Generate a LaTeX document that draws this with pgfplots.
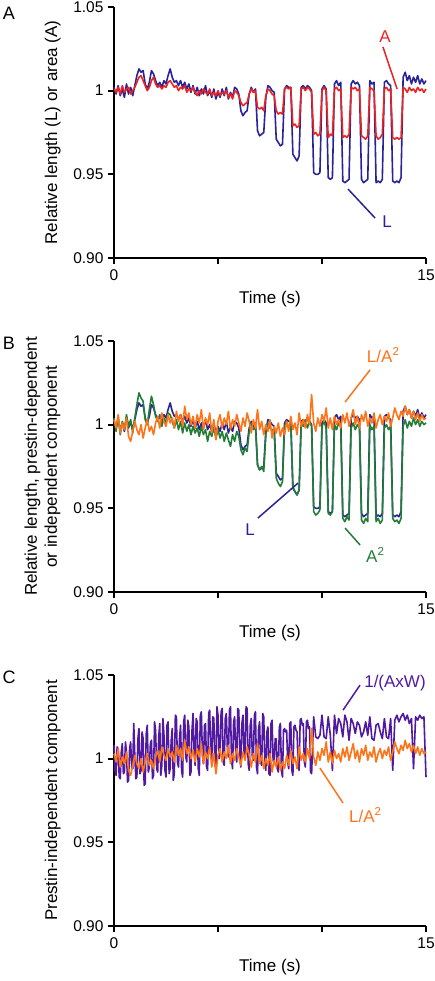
\documentclass[border=0pt]{standalone}
\usepackage{pgfplots}
\pgfplotsset{compat=1.18}
\usepackage{pgfplotstable}
\usepackage{fontspec}
\setmainfont{Liberation Sans}
\definecolor{cL}{RGB}{40,35,150}
\definecolor{cA}{RGB}{235,35,35}
\definecolor{cG}{RGB}{35,125,55}
\definecolor{cO}{RGB}{255,115,25}
\definecolor{cP}{RGB}{80,25,160}
\newcommand{\sq}{\raisebox{0.42em}{\fontsize{11.5}{12}\selectfont 2}}

\pgfplotstableread{
t L A A2 LA2
0.0 1.002 1.001 1.004 1.003
0.1 0.998 0.999 0.996 0.998
0.2 1.003 1.002 1.005 1.006
0.3 0.997 0.998 0.994 0.995
0.4 1.001 1.003 1.002 1.001
0.5 0.996 0.999 0.997 0.997
0.6 1.004 1.001 1.006 1.004
0.7 0.998 1.002 0.999 0.993
0.8 1.002 0.998 1.003 0.990
0.9 0.997 1.000 0.995 0.996
1.0 1.003 1.002 1.004 1.002
1.1 1.009 1.005 1.012 0.997
1.2 1.013 1.008 1.019 0.994
1.3 1.011 1.009 1.016 1.000
1.4 1.012 1.006 1.014 0.992
1.5 1.004 1.003 1.003 0.998
1.6 1.001 1.000 1.000 1.003
1.7 1.005 1.002 1.009 0.996
1.8 1.012 1.006 1.017 0.999
1.9 1.010 1.008 1.012 0.994
2.0 1.006 1.004 1.005 1.001
2.1 1.003 1.002 1.002 1.005
2.2 1.005 1.003 1.006 0.998
2.3 1.002 1.001 0.999 1.007
2.4 1.006 1.003 1.004 1.002
2.5 1.004 1.002 1.001 0.999
2.6 1.009 1.005 1.007 1.006
2.7 1.013 1.006 1.006 1.001
2.8 1.008 1.004 1.002 1.004
2.9 1.005 1.002 0.998 0.998
3.0 1.006 1.003 1.003 1.008
3.1 1.003 1.000 0.997 1.002
3.2 1.006 1.002 1.002 1.006
3.3 1.002 1.001 0.995 0.999
3.4 1.005 1.003 1.001 1.011
3.5 1.001 0.999 0.996 1.003
3.6 1.004 1.001 1.000 1.007
3.7 0.999 1.000 0.994 1.000
3.8 1.003 1.002 0.999 1.005
3.9 0.998 0.999 0.995 0.998
4.0 1.002 0.997 0.998 1.006
4.1 0.997 1.000 0.993 1.001
4.2 1.001 0.998 0.999 1.009
4.3 0.998 1.001 0.994 0.997
4.4 1.003 0.999 0.997 1.004
4.5 0.997 0.998 0.990 1.000
4.6 1.000 1.001 0.996 1.007
4.7 0.996 0.997 0.993 0.995
4.8 1.001 0.999 0.998 1.003
4.9 0.995 0.997 0.992 0.991
5.0 0.999 1.000 0.997 1.002
5.1 0.996 0.997 0.992 1.006
5.2 1.001 0.999 0.996 0.998
5.3 0.997 0.998 0.990 1.004
5.4 1.002 1.000 0.995 1.000
5.5 0.995 0.996 0.991 1.008
5.6 0.999 0.998 0.987 0.997
5.7 0.996 0.995 0.994 1.003
5.8 1.002 1.000 0.990 0.999
5.9 1.001 0.999 0.996 1.006
6.0 0.998 0.997 0.993 1.001
6.1 0.988 0.993 0.985 0.996
6.2 0.985 0.991 0.982 1.004
6.3 0.987 0.992 0.986 0.999
6.4 0.988 0.993 0.984 1.007
6.5 0.998 0.998 0.996 1.002
6.6 1.002 1.001 1.001 0.995
6.7 0.999 0.999 0.997 1.003
6.8 1.001 1.000 0.999 0.998
6.9 0.976 0.990 0.976 1.009
7.0 0.973 0.989 0.973 0.997
7.1 0.974 0.990 0.975 1.002
7.2 0.975 0.988 0.972 0.994
7.3 0.996 0.997 0.994 1.000
7.4 1.003 1.001 1.001 0.996
7.5 1.002 1.000 0.998 1.003
7.6 1.000 0.998 0.997 0.992
7.7 0.999 0.997 0.996 0.999
7.8 0.971 0.988 0.968 0.995
7.9 0.969 0.986 0.965 1.001
8.0 0.967 0.987 0.963 0.993
8.1 0.968 0.986 0.966 0.998
8.2 1.001 1.001 0.999 0.994
8.3 1.003 1.002 1.002 1.002
8.4 1.002 1.001 0.998 0.996
8.5 1.002 1.002 1.001 1.005
8.6 0.962 0.979 0.963 0.997
8.7 0.960 0.980 0.960 1.001
8.8 0.958 0.978 0.958 0.994
8.9 0.961 0.979 0.961 1.007
9.0 1.002 1.001 1.001 0.999
9.1 1.003 1.002 0.999 1.003
9.2 1.001 1.000 1.003 0.998
9.3 1.003 1.002 0.998 1.006
9.4 1.002 1.001 1.002 1.000
9.5 1.000 0.999 0.999 1.018
9.6 0.951 0.974 0.948 1.001
9.7 0.950 0.975 0.946 0.996
9.8 0.950 0.973 0.947 1.004
9.9 0.951 0.974 0.949 0.999
10.0 1.001 1.000 0.999 1.006
10.1 1.003 1.002 1.002 1.002
10.2 1.001 1.000 0.998 1.010
10.3 0.948 0.972 0.947 0.998
10.4 0.947 0.974 0.946 1.004
10.5 0.948 0.973 0.948 0.997
10.6 1.004 1.001 1.000 1.005
10.7 1.006 1.002 0.997 1.000
10.8 1.003 1.000 1.001 1.003
10.9 1.005 1.001 0.999 0.998
11.0 0.946 0.972 0.944 1.006
11.1 0.945 0.973 0.942 1.001
11.2 0.946 0.972 0.945 1.007
11.3 0.947 0.974 0.943 0.999
11.4 1.004 1.002 0.998 1.004
11.5 1.006 1.001 1.001 1.009
11.6 1.004 1.002 0.997 1.000
11.7 1.005 1.000 1.000 1.005
11.8 1.003 1.001 0.998 0.998
11.9 0.947 0.973 0.943 1.006
12.0 0.945 0.972 0.941 1.002
12.1 0.946 0.971 0.944 1.008
12.2 0.947 0.973 0.942 0.999
12.3 1.006 1.002 1.000 1.004
12.4 1.004 1.001 0.997 1.001
12.5 1.005 1.000 0.999 1.007
12.6 0.945 0.973 0.942 0.998
12.7 0.946 0.971 0.944 1.003
12.8 0.945 0.972 0.941 1.006
12.9 0.947 0.974 0.943 1.000
13.0 1.005 1.001 0.998 1.005
13.1 1.006 1.002 1.000 1.002
13.2 1.004 1.000 0.997 1.007
13.3 1.003 1.001 0.999 0.999
13.4 0.946 0.972 0.944 1.004
13.5 0.945 0.971 0.942 1.010
13.6 0.946 0.972 0.943 1.006
13.7 0.945 0.971 0.941 1.003
13.8 0.948 0.972 0.944 1.008
13.9 1.008 1.002 0.999 1.005
14.0 1.011 1.001 1.003 1.011
14.1 1.006 0.999 0.998 1.006
14.2 1.009 1.002 1.002 1.009
14.3 1.004 1.000 0.999 1.004
14.4 1.008 1.001 1.004 1.008
14.5 1.005 0.999 1.000 1.003
14.6 1.009 1.002 1.003 1.007
14.7 1.004 1.000 0.999 1.002
14.8 1.007 1.001 1.002 1.006
14.9 1.004 0.999 1.000 1.003
15.0 1.006 1.001 1.001 1.004
}\data

\pgfplotstableread{
t W
0.00 1.008
0.05 0.993
0.10 0.990
0.15 1.007
0.20 1.006
0.25 0.989
0.30 0.988
0.35 1.004
0.40 1.009
0.45 0.991
0.50 0.992
0.55 1.010
0.60 1.004
0.65 0.986
0.70 0.987
0.75 1.006
0.80 1.010
0.85 0.995
0.90 0.994
0.95 1.021
1.00 1.002
1.05 0.988
1.10 0.989
1.15 1.012
1.20 1.018
1.25 0.991
1.30 0.993
1.35 1.016
1.40 1.012
1.45 0.984
1.50 0.985
1.55 1.015
1.60 1.020
1.65 0.992
1.70 0.995
1.75 1.009
1.80 1.011
1.85 0.988
1.90 0.990
1.95 1.022
2.00 1.017
2.05 0.994
2.10 0.992
2.15 1.013
2.20 1.021
2.25 0.990
2.30 0.996
2.35 1.024
2.40 1.015
2.45 0.993
2.50 0.989
2.55 1.020
2.60 1.022
2.65 0.991
2.70 0.994
2.75 1.011
2.80 1.018
2.85 0.987
2.90 0.991
2.95 1.026
3.00 1.025
3.05 0.998
3.10 0.995
3.15 1.012
3.20 1.020
3.25 0.993
3.30 0.989
3.35 1.022
3.40 1.026
3.45 1.001
3.50 0.998
3.55 1.023
3.60 1.019
3.65 0.990
3.70 0.992
3.75 1.017
3.80 1.027
3.85 1.005
3.90 0.996
3.95 1.024
4.00 1.022
4.05 0.994
4.10 0.990
4.15 1.026
4.20 1.028
4.25 1.002
4.30 0.997
4.35 1.020
4.40 1.021
4.45 0.995
4.50 0.993
4.55 1.027
4.60 1.029
4.65 1.004
4.70 0.999
4.75 1.025
4.80 1.024
4.85 0.996
4.90 0.995
4.95 1.031
5.00 1.026
5.05 1.000
5.10 1.003
5.15 1.028
5.20 1.030
5.25 0.998
5.30 0.996
5.35 1.024
5.40 1.027
5.45 1.006
5.50 1.001
5.55 1.029
5.60 1.031
5.65 0.999
5.70 0.994
5.75 1.022
5.80 1.025
5.85 1.003
5.90 0.998
5.95 1.030
6.00 1.029
6.05 1.000
6.10 0.995
6.15 1.021
6.20 1.026
6.25 1.004
6.30 1.002
6.35 1.031
6.40 1.030
6.45 0.997
6.50 0.993
6.55 1.020
6.60 1.024
6.65 1.001
6.70 0.999
6.75 1.026
6.80 1.028
6.85 0.995
6.90 0.991
6.95 1.018
7.00 1.022
7.05 0.998
7.10 0.996
7.15 1.027
7.20 1.025
7.25 0.997
7.30 0.993
7.35 1.016
7.40 1.019
7.45 0.991
7.50 0.990
7.55 1.021
7.60 1.023
7.65 0.999
7.70 0.997
7.75 1.012
7.80 1.012
7.85 0.994
7.90 0.992
7.95 1.019
8.00 1.021
8.05 0.993
8.10 0.989
8.15 1.017
8.20 1.018
8.25 1.016
8.30 1.017
8.35 0.998
8.40 0.994
8.45 1.021
8.50 1.022
8.55 0.993
8.60 0.990
8.65 1.019
8.70 1.020
8.75 1.017
8.80 1.016
8.85 0.996
8.90 0.993
8.95 1.023
9.00 1.024
9.05 1.020
9.10 1.021
9.15 0.998
9.20 0.995
9.25 1.022
9.30 1.023
9.35 1.018
9.40 1.019
9.45 0.992
9.50 0.991
9.60 1.025
9.70 1.013
9.80 1.012
9.90 1.014
10.00 1.026
10.10 1.013
10.20 1.012
10.30 1.025
10.40 1.014
10.50 0.993
10.60 1.026
10.70 1.015
10.80 1.024
10.90 1.021
11.00 1.013
11.10 1.026
11.20 1.022
11.30 1.011
11.40 1.024
11.50 1.021
11.60 1.015
11.70 1.022
11.80 1.020
11.90 1.013
12.00 1.016
12.10 1.022
12.20 1.014
12.30 1.025
12.40 1.012
12.50 1.011
12.60 1.020
12.70 1.021
12.80 1.016
12.90 1.012
13.00 1.024
13.10 1.013
13.20 1.012
13.30 1.024
13.40 0.993
13.50 1.023
13.60 1.026
13.70 1.022
13.80 1.025
13.90 1.027
14.00 1.023
14.10 1.026
14.20 1.021
14.30 1.024
14.40 0.994
14.50 1.025
14.60 1.023
14.70 1.026
14.80 1.024
14.90 1.025
15.00 0.989
}\wdata

\pgfplotsset{panel/.style={
  scale only axis, width=312pt, height=251pt,
  xmin=0, xmax=15, ymin=0.90, ymax=1.05,
  axis x line*=bottom, axis y line*=left,
  axis line style={line width=2.2pt},
  every outer x axis line/.append style={line width=2.2pt},
  every outer y axis line/.append style={line width=2.2pt},
  xtick={0,5,10,15}, xticklabels={0,,,15},
  ytick={0.90,0.95,1,1.05}, yticklabels={0.90,0.95,1,1.05},
  tick align=outside, major tick length=6pt,
  major tick style={black, line width=2.2pt},
  tick label style={font=\fontsize{15.5}{17}\selectfont},
  xticklabel style={yshift=-2pt},
  yticklabel style={xshift=-1pt},
  label style={font=\fontsize{17}{20}\selectfont},
  xlabel={Time (s)},
  xlabel style={at={(axis description cs:0.5,-0.163)}, anchor=center},
  clip=false, anchor=south west,
  every axis plot/.append style={line width=1.6pt, line join=round},
  /pgf/number format/assume math mode=true,
}}

\begin{document}
\begin{tikzpicture}
\useasboundingbox (0pt,0pt) rectangle (435pt,981pt);
\node[font=\fontsize{18}{20}\selectfont] at (9pt,968pt) {A};
\node[font=\fontsize{18}{20}\selectfont] at (9pt,638pt) {B};
\node[font=\fontsize{18}{20}\selectfont] at (9pt,304pt) {C};

% Panel A
\begin{axis}[panel, at={(114pt,723pt)},
  ylabel={Relative length (L) or area (A)},
  ylabel style={at={(axis description cs:-0.196,0.5)}, anchor=center}]
\addplot[cL] table[x=t,y=L] {\data};
\addplot[cA] table[x=t,y=A] {\data};
\draw[cA, line width=1.5pt] (axis cs:12.93,1.0261) -- (axis cs:13.61,1.0010);
\node[cA, font=\fontsize{17}{20}\selectfont] at (axis cs:13.03,1.0321) {A};
\draw[cL, line width=1.5pt] (axis cs:11.25,0.9412) -- (axis cs:12.55,0.9239);
\node[cL, font=\fontsize{17}{20}\selectfont] at (axis cs:13.13,0.9215) {L};
\end{axis}

% Panel B
\begin{axis}[panel, at={(114pt,389pt)},
  ylabel={Relative length, prestin-dependent\\or independent component},
  ylabel style={at={(axis description cs:-0.229,0.5)}, anchor=center, align=center}]
\addplot[cL] table[x=t,y=L] {\data};
\addplot[cG] table[x=t,y=A2] {\data};
\addplot[cO] table[x=t,y=LA2] {\data};
\draw[cO, line width=1.5pt] (axis cs:12.31,1.0327) -- (axis cs:11.11,1.0135);
\node[cO, font=\fontsize{17}{20}\selectfont] at (axis cs:12.93,1.0416) {L/A\sq};
\draw[cL, line width=1.5pt] (axis cs:6.92,0.9442) -- (axis cs:8.85,0.9651);
\node[cL, font=\fontsize{17}{20}\selectfont] at (axis cs:6.54,0.9371) {L};
\draw[cG, line width=1.5pt] (axis cs:11.11,0.9382) -- (axis cs:11.83,0.9281);
\node[cG, font=\fontsize{17}{20}\selectfont] at (axis cs:12.55,0.9221) {A\sq};
\end{axis}

% Panel C
\begin{axis}[panel, at={(114pt,55pt)},
  ylabel={Prestin-independent component},
  ylabel style={at={(axis description cs:-0.196,0.5)}, anchor=center}]
\addplot[cP] table[x=t,y=W] {\wdata};
\addplot[cO] table[x=t,y=LA2] {\data};
\draw[cP, line width=1.5pt] (axis cs:11.83,1.0440) -- (axis cs:11.01,1.0290);
\node[cP, font=\fontsize{17}{20}\selectfont] at (axis cs:13.51,1.0452) {1/(AxW)};
\draw[cO, line width=1.5pt] (axis cs:11.01,0.9735) -- (axis cs:9.90,0.9944);
\node[cO, font=\fontsize{17}{20}\selectfont] at (axis cs:12.07,0.9663) {L/A\sq};
\end{axis}
\end{tikzpicture}
\end{document}
